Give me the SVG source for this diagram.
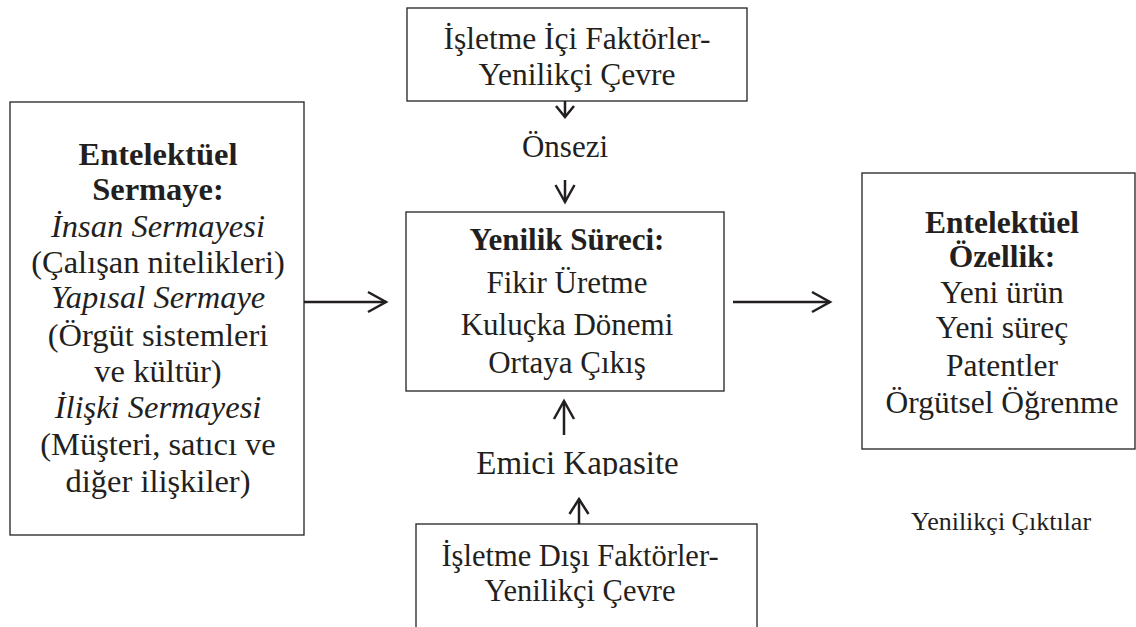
<svg xmlns="http://www.w3.org/2000/svg" width="1136" height="627" viewBox="0 0 1136 627">
  <style>
    .box { fill: #ffffff; stroke: #231f20; stroke-width: 1.3; }
    .t { font-family: "Liberation Serif", "Times New Roman", serif; fill: #231f20; text-anchor: middle; }
    .b { font-weight: bold; }
    .i { font-style: italic; }
    .wire { fill: none; stroke: #231f20; stroke-width: 2.5; }
    .head { fill: none; stroke: #231f20; stroke-width: 2.5; stroke-linejoin: miter; }
  </style>
  <defs>
    <clipPath id="clipEmici">
      <rect x="400" y="420" width="340" height="56"/>
    </clipPath>
  </defs>
  <rect width="1136" height="627" fill="#ffffff"/>

  <!-- Intellectual capital (left) -->
  <g id="node-sermaye">
    <rect class="box" x="10" y="102" width="294" height="433"/>
    <g class="t" font-size="32.5">
      <text class="b" x="158" y="165">Entelektüel</text>
      <text class="b" x="158" y="200">Sermaye:</text>
      <text class="i" x="158" y="237">İnsan Sermayesi</text>
      <text x="158" y="273">(Çalışan nitelikleri)</text>
      <text class="i" x="158" y="308">Yapısal Sermaye</text>
      <text x="158" y="346">(Örgüt sistemleri</text>
      <text x="158" y="382">ve kültür)</text>
      <text class="i" x="158" y="418">İlişki Sermayesi</text>
      <text x="158" y="455">(Müşteri, satıcı ve</text>
      <text x="158" y="492">diğer ilişkiler)</text>
    </g>
  </g>

  <!-- Internal factors (top) -->
  <g id="node-ic-faktorler">
    <rect class="box" x="407" y="8" width="340" height="93"/>
    <g class="t" font-size="31.5">
      <text x="577" y="49">İşletme İçi Faktörler-</text>
      <text x="577" y="85">Yenilikçi Çevre</text>
    </g>
  </g>

  <!-- Intuition label -->
  <g id="node-onsezi">
    <text class="t" font-size="31" x="565" y="157">Önsezi</text>
  </g>

  <!-- Innovation process (centre) -->
  <g id="node-surec">
    <rect class="box" x="406" y="212" width="318" height="179"/>
    <g class="t" font-size="31">
      <text class="b" x="567" y="250">Yenilik Süreci:</text>
      <text x="567" y="292.5">Fikir Üretme</text>
      <text x="567" y="335">Kuluçka Dönemi</text>
      <text x="567" y="373">Ortaya Çıkış</text>
    </g>
  </g>

  <!-- Absorptive capacity label -->
  <g id="node-emici">
    <text class="t" font-size="33" x="577.5" y="474" clip-path="url(#clipEmici)">Emici Kapasite</text>
  </g>

  <!-- External factors (bottom) -->
  <g id="node-dis-faktorler">
    <rect class="box" x="416" y="524" width="341" height="120"/>
    <g class="t" font-size="30.5">
      <text x="580" y="566">İşletme Dışı Faktörler-</text>
      <text x="580" y="601">Yenilikçi Çevre</text>
    </g>
  </g>

  <!-- Intellectual property (right) -->
  <g id="node-ozellik">
    <rect class="box" x="862" y="173" width="273" height="276"/>
    <g class="t" font-size="31.5">
      <text class="b" x="1002" y="233">Entelektüel</text>
      <text class="b" x="1002" y="267">Özellik:</text>
      <text x="1002" y="303">Yeni ürün</text>
      <text x="1002" y="338">Yeni süreç</text>
      <text x="1002" y="376">Patentler</text>
      <text x="1002" y="413">Örgütsel Öğrenme</text>
    </g>
  </g>

  <!-- Outputs caption -->
  <g id="node-ciktilar">
    <text class="t" font-size="26" x="1001" y="530">Yenilikçi Çıktılar</text>
  </g>

  <!-- Connectors -->
  <g id="connectors">
    <!-- capital -> process -->
    <line class="wire" x1="304" y1="302" x2="386" y2="302"/>
    <path class="head" d="M368,292 L386,302 L368,312"/>
    <!-- process -> property -->
    <line class="wire" x1="733" y1="302" x2="830" y2="302"/>
    <path class="head" d="M812,292 L830,302 L812,312"/>
    <!-- internal factors -> intuition -->
    <line class="wire" x1="565" y1="101" x2="565" y2="117"/>
    <path class="head" d="M556,106 L565,117 L574,106"/>
    <!-- intuition -> process -->
    <line class="wire" x1="565" y1="180" x2="565" y2="202"/>
    <path class="head" d="M555.5,185 L565,202 L574.5,185"/>
    <!-- absorptive capacity -> process -->
    <line class="wire" x1="564" y1="435" x2="564" y2="401"/>
    <path class="head" d="M554,419 L564,401 L574,419"/>
    <!-- external factors -> absorptive capacity -->
    <line class="wire" x1="579" y1="524" x2="579" y2="499"/>
    <path class="head" d="M569.5,514 L579,499 L588.5,514"/>
  </g>
</svg>
